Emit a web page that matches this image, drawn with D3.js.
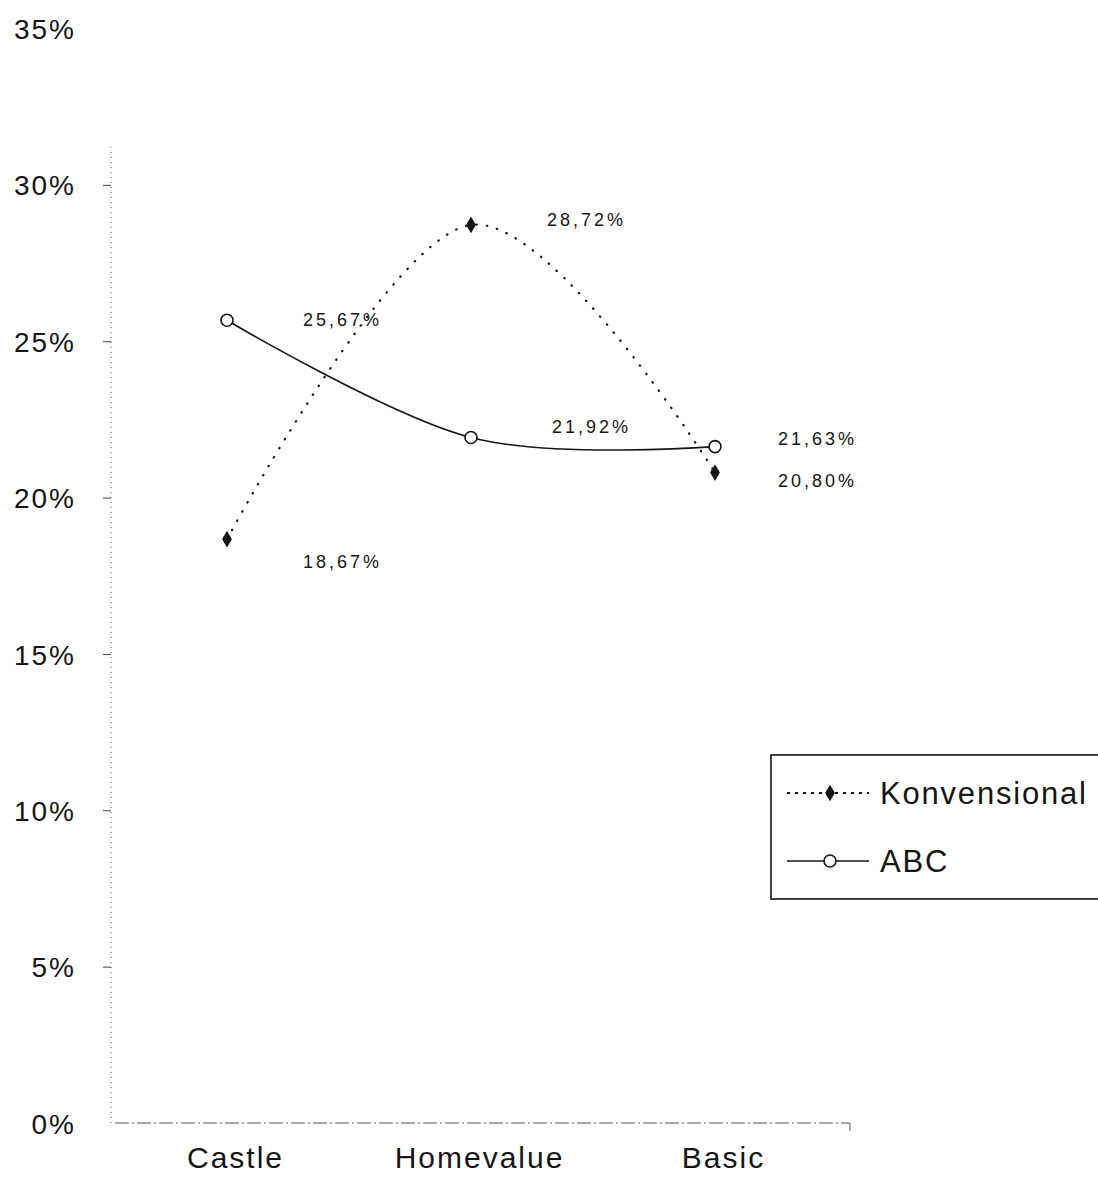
<!DOCTYPE html>
<html>
<head>
<meta charset="utf-8">
<script src="https://cdn.jsdelivr.net/npm/d3@7"></script>
<style>
  html, body { margin: 0; padding: 0; background: #fff; }
  svg { display: block; font-family: "Liberation Sans", Arial, sans-serif; }
</style>
</head>
<body>
<svg id="chart" width="1098" height="1184"></svg>
<script>
// Product lines and the two costing methods compared
const categories = ["Castle", "Homevalue", "Basic"];
const konvensional = [18.67, 28.72, 20.80];
const abc = [25.67, 21.92, 21.63];
const yTicks = [0, 5, 10, 15, 20, 25, 30, 35];
const seriesNames = ["Konvensional", "ABC"];

// label placement around each point (px), per series
const labelOffsetK = [[76, 22], [76, -5], [63, 8]];
const labelOffsetA = [[76, -1], [81, -11], [63, -8]];

const svg = d3.select("#chart");
const ink = "#151515";

const y = d3.scaleLinear().domain([0, 35]).range([1123, 28.5]);
const x = d3.scalePoint().domain(categories).range([227, 715]);
const axisX = 111;
const fmt = v => v.toFixed(2).replace(".", ",") + "%";

// y axis: faint dotted spine with outward ticks
svg.append("line")
  .attr("x1", axisX).attr("x2", axisX)
  .attr("y1", y(0)).attr("y2", y(31.2))
  .attr("stroke", "#555").attr("stroke-width", 1)
  .attr("stroke-dasharray", "1,4");

const yAxis = d3.axisLeft(y).tickValues(yTicks).tickSize(8).tickPadding(27)
  .tickFormat(d => d + "%");
const gy = svg.append("g").attr("transform", `translate(${axisX},0)`).call(yAxis);
gy.select(".domain").remove();
gy.selectAll(".tick line").attr("stroke", "#444").attr("stroke-width", 1)
  .filter(d => d === 35 || d === 0).remove();
gy.selectAll(".tick text")
  .attr("fill", ink).attr("font-size", 28).attr("letter-spacing", 2)
  .attr("dy", "0.36em");

// x axis baseline
svg.append("line")
  .attr("x1", axisX + 4).attr("x2", 850)
  .attr("y1", y(0)).attr("y2", y(0))
  .attr("stroke", "#555").attr("stroke-width", 1.2)
  .attr("stroke-dasharray", "14,3,2,3");
svg.append("line")
  .attr("x1", 850).attr("x2", 850)
  .attr("y1", y(0)).attr("y2", y(0) + 8)
  .attr("stroke", "#555");

const xAxis = d3.axisBottom(x).tickSize(0).tickPadding(0);
const gx = svg.append("g").attr("transform", `translate(8,${y(0) + 42})`).call(xAxis);
gx.select(".domain").remove();
gx.selectAll(".tick text")
  .attr("fill", ink).attr("font-size", 30).attr("letter-spacing", 2)
  .attr("dy", "0.1em");

// smoothed series lines
const line = d3.line()
  .x((d, i) => x(categories[i]))
  .y(d => y(d))
  .curve(d3.curveCatmullRom.alpha(0));

svg.append("path").datum(konvensional)
  .attr("d", line).attr("fill", "none")
  .attr("stroke", ink).attr("stroke-width", 2.2)
  .attr("stroke-linecap", "round")
  .attr("stroke-dasharray", "0.5,10");

svg.append("path").datum(abc)
  .attr("d", line).attr("fill", "none")
  .attr("stroke", ink).attr("stroke-width", 1.6);

// markers: filled rounded diamond for Konvensional, open circle for ABC
const diamond = d3.symbol().type(d3.symbolDiamond).size(80);
function kMarker(sel) {
  sel.append("path").attr("d", diamond).attr("fill", ink);
  sel.append("circle").attr("r", 4.2).attr("fill", ink);
}
svg.append("g").selectAll("g").data(konvensional).join("g")
  .attr("transform", (d, i) => `translate(${x(categories[i])},${y(d)})`)
  .call(kMarker);

svg.append("g").selectAll("circle").data(abc).join("circle")
  .attr("cx", (d, i) => x(categories[i])).attr("cy", d => y(d))
  .attr("r", 6).attr("fill", "#fff").attr("stroke", ink).attr("stroke-width", 1.6);

// value labels
function labels(values, offsets) {
  svg.append("g").selectAll("text").data(values).join("text")
    .attr("x", (d, i) => x(categories[i]) + offsets[i][0])
    .attr("y", (d, i) => y(d) + offsets[i][1])
    .attr("dy", "0.36em")
    .attr("font-size", 18).attr("letter-spacing", 3)
    .attr("fill", ink)
    .text(d => fmt(d));
}
labels(konvensional, labelOffsetK);
labels(abc, labelOffsetA);

// legend
const lg = svg.append("g").attr("transform", "translate(771,755)");
lg.append("rect").attr("x", 0).attr("y", 0).attr("width", 340).attr("height", 144)
  .attr("fill", "#fff").attr("stroke", ink).attr("stroke-width", 1.6);
const rows = [38, 106];
lg.append("line").attr("x1", 16).attr("x2", 98).attr("y1", rows[0]).attr("y2", rows[0])
  .attr("stroke", ink).attr("stroke-width", 2).attr("stroke-dasharray", "3,5");
lg.append("g").attr("transform", `translate(59,${rows[0]})`).call(kMarker);
lg.append("line").attr("x1", 16).attr("x2", 98).attr("y1", rows[1]).attr("y2", rows[1])
  .attr("stroke", ink).attr("stroke-width", 1.6);
lg.append("circle").attr("cx", 59).attr("cy", rows[1]).attr("r", 6)
  .attr("fill", "#fff").attr("stroke", ink).attr("stroke-width", 1.6);
lg.selectAll("text.name").data(seriesNames).join("text")
  .attr("class", "name")
  .attr("x", 109).attr("y", (d, i) => rows[i]).attr("dy", "0.36em")
  .attr("font-size", 31).attr("letter-spacing", 1.8).attr("fill", ink)
  .text(d => d);
</script>
</body>
</html>
